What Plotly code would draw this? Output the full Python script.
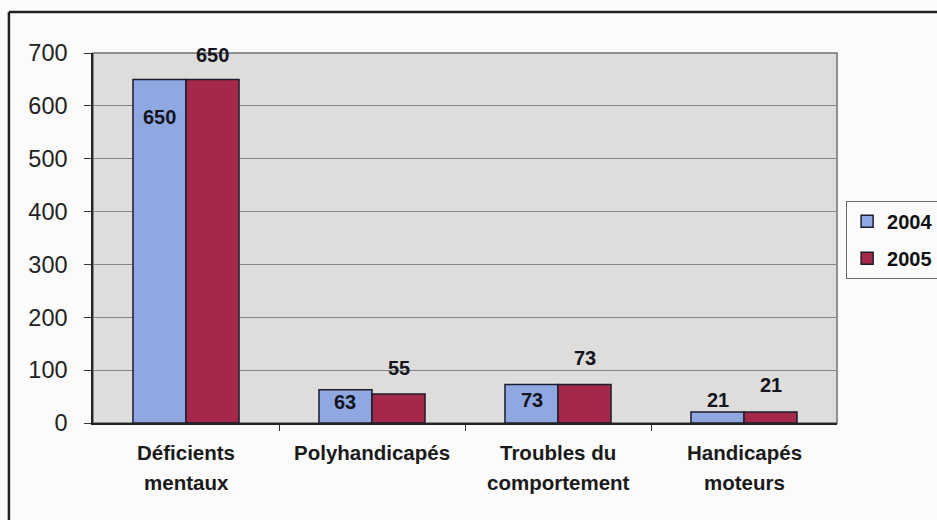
import plotly.graph_objects as go

# Effectifs par type de handicap
categories = ["Déficients mentaux", "Polyhandicapés", "Troubles du comportement", "Handicapés moteurs"]
category_lines = [["Déficients", "mentaux"], ["Polyhandicapés"], ["Troubles du", "comportement"], ["Handicapés", "moteurs"]]
years = ["2004", "2005"]
values_2004 = [650, 63, 73, 21]
values_2005 = [650, 55, 73, 21]

# vertical offsets (px) of the value labels relative to bar tops
label_shift_2004 = [-38, -12, -16, 12]
label_shift_2005 = [24, 26, 26, 27]

colors = {"2004": "#90A8E2", "2005": "#A3284A"}
outline = "#1c1c2c"
bar_gap = 0.43
bar_w = (1 - bar_gap) / 2

fig = go.Figure()
for yr, vals in zip(years, [values_2004, values_2005]):
    fig.add_trace(go.Bar(
        x=list(range(len(categories))), y=vals, name=yr,
        legendgroup=yr,
        marker=dict(color=colors[yr], line=dict(color=outline, width=1.5)),
        hoverinfo="skip",
    ))

annotations = []
for i in range(len(categories)):
    for vals, shifts, off in [(values_2004, label_shift_2004, -bar_w / 2),
                              (values_2005, label_shift_2005, bar_w / 2)]:
        annotations.append(dict(
            x=i + off, y=vals[i], xref="x", yref="y", text=str(vals[i]),
            showarrow=False, yanchor="middle", yshift=shifts[i],
            font=dict(family="Liberation Sans, Arial", size=20, color="#141420", weight="bold"),
        ))
    for j, line in enumerate(category_lines[i]):
        annotations.append(dict(
            x=i, y=-0.079 - j * 0.081, xref="x", yref="paper", text=line,
            showarrow=False, yanchor="middle",
            font=dict(family="Liberation Sans, Arial", size=20.5, color="#1a1a1a", weight="bold"),
        ))

shapes = [
    # plot area frame
    dict(type="rect", xref="paper", yref="paper", x0=0, x1=1, y0=0, y1=1,
         line=dict(color="#707070", width=1.5), layer="below"),
    # outer chart border
    dict(type="line", xref="paper", yref="paper", x0=-0.113, x1=1.3, y0=1.111, y1=1.111,
         line=dict(color="#222222", width=2.5)),
    dict(type="line", xref="paper", yref="paper", x0=-0.113, x1=-0.113, y0=1.111, y1=-0.4,
         line=dict(color="#222222", width=2.5)),
]

fig.update_layout(
    width=937, height=520,
    margin=dict(l=93, r=100, t=53, b=97, autoexpand=False),
    paper_bgcolor="#FBFBFB",
    plot_bgcolor="#DEDDDB",
    barmode="group", bargap=bar_gap, bargroupgap=0,
    showlegend=True,
    legend=dict(
        xref="container", yref="container",
        x=0.903, xanchor="left", y=0.614, yanchor="top",
        bgcolor="#FBFBFB", bordercolor="#6a6a6a", borderwidth=1,
        font=dict(family="Liberation Sans, Arial", size=20, color="#111", weight="bold"),
        traceorder="grouped", tracegroupgap=8,
    ),
    xaxis=dict(
        type="linear", range=[-0.5, 3.5],
        tickmode="array", tickvals=[0.5, 1.5, 2.5], ticks="outside", ticklen=6,
        tickcolor="#333", showticklabels=False,
        showgrid=False, zeroline=False,
        showline=True, linecolor="#222", linewidth=1.5,
    ),
    yaxis=dict(
        range=[0, 700], dtick=100, ticks="outside", ticklen=7, tickcolor="#333",
        tickfont=dict(family="Liberation Sans, Arial", size=23.5, color="#222"),
        ticklabelstandoff=12,
        showgrid=True, gridcolor="#858585", gridwidth=1,
        zeroline=False,
        showline=True, linecolor="#222", linewidth=1.5,
    ),
    annotations=annotations,
    shapes=shapes,
)

fig.write_html("out.html")
